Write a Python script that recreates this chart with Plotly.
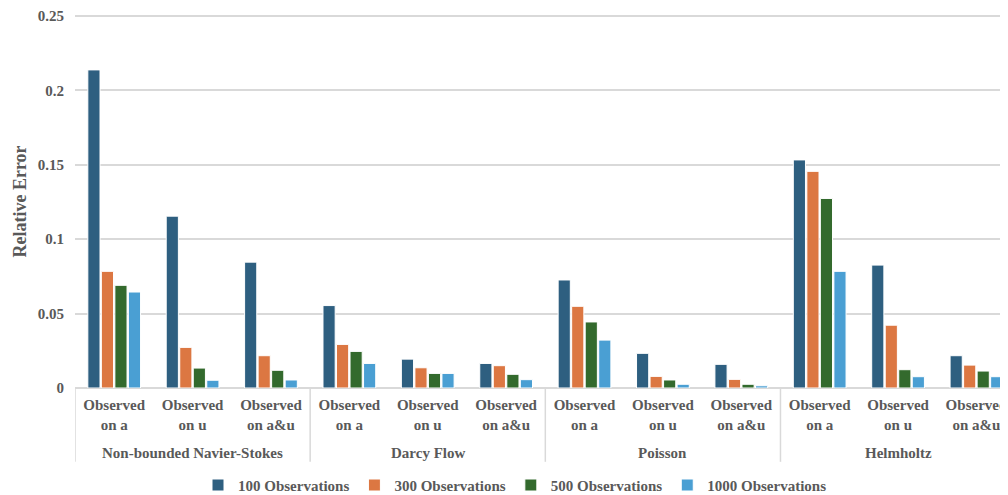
import plotly.graph_objects as go

groups = ["Non-bounded Navier-Stokes", "Darcy Flow", "Poisson", "Helmholtz"]
subcats = ["Observed<br>on a", "Observed<br>on u", "Observed<br>on a&u"]
series_names = ["100 Observations", "300 Observations", "500 Observations", "1000 Observations"]

obs_100 = [0.2138, 0.1155, 0.0846, 0.0554, 0.0194, 0.0165, 0.0726, 0.0233, 0.0159, 0.1533, 0.0826, 0.0217]
obs_300 = [0.0784, 0.0273, 0.0217, 0.0293, 0.0136, 0.0150, 0.0549, 0.0078, 0.0058, 0.1456, 0.0422, 0.0154]
obs_500 = [0.0690, 0.0134, 0.0119, 0.0246, 0.0098, 0.0092, 0.0444, 0.0054, 0.0025, 0.1274, 0.0123, 0.0114]
obs_1000 = [0.0645, 0.0052, 0.0054, 0.0165, 0.0098, 0.0056, 0.0322, 0.0025, 0.0015, 0.0784, 0.0076, 0.0076]

y_ticks = [0, 0.05, 0.1, 0.15, 0.2, 0.25]
y_ticktext = ["0", "0.05", "0.1", "0.15", "0.2", "0.25"]

colors = ["#2E5F80", "#DC7742", "#336A2D", "#4A9FD3"]
txt = "#595959"
grid = "#D9D9D9"
FONT = dict(family="Liberation Serif", size=15, color=txt, weight="bold")

cats = [f"{g}|{s}" for g in groups for s in subcats]
ticktext = [s for g in groups for s in subcats]

fig = go.Figure()
for name, vals, c in zip(series_names, [obs_100, obs_300, obs_500, obs_1000], colors):
    fig.add_trace(go.Bar(x=cats, y=vals, name=name, marker=dict(color=c, line=dict(color="white", width=1))))

# page body has an 8px margin; size the figure so it lands where the reference is
W, H = 1000, 487
left, right = 67, 0
top, bottom = 6, 107
cat_w = (782 - 75) / 9.0
x_max = -0.5 + (W - left) / cat_w

fig.update_layout(
    width=W, height=H,
    margin=dict(l=left, r=right, t=top, b=bottom),
    paper_bgcolor="white", plot_bgcolor="white",
    barmode="group", bargap=0.31, bargroupgap=0.1,
    font=FONT,
    showlegend=True,
    legend=dict(orientation="h", xref="container", yref="container", x=0.507, y=0.02,
                xanchor="center", yanchor="middle", font=FONT, itemwidth=30),
    xaxis=dict(type="category", categoryorder="array", categoryarray=cats,
               range=[-0.5, x_max], tickvals=cats, ticktext=ticktext,
               showgrid=False, showline=False, zeroline=False, ticklabeloverflow="allow",
               ticks="outside", ticklen=3, tickcolor="rgba(0,0,0,0)", tickfont=FONT),
    yaxis=dict(range=[0, 0.2507], tickvals=y_ticks, ticktext=y_ticktext,
               showgrid=True, gridcolor=grid, gridwidth=1.5, zeroline=True, zerolinecolor=grid,
               zerolinewidth=1.5, showline=False, tickfont=FONT, ticklabelstandoff=10,
               ticklabeloverflow="allow",
               title=dict(text="Relative Error", font=dict(family="Liberation Serif", size=18, color=txt, weight="bold"),
                          standoff=6)),
)

div_bottom = -(462 - 388) / 374.0
for xv in [-0.5, 2.5, 5.5, 8.5]:
    fig.add_shape(type="line", xref="x", yref="paper", x0=xv, x1=xv, y0=0, y1=div_bottom,
                  line=dict(color=grid, width=1.5))

for gi, g in enumerate(groups):
    fig.add_annotation(x=gi * 3 + 1, y=-(453 - 388) / 374.0, xref="x", yref="paper", text=g,
                       showarrow=False, font=FONT, xanchor="center", yanchor="middle")

fig.write_html("out.html")
